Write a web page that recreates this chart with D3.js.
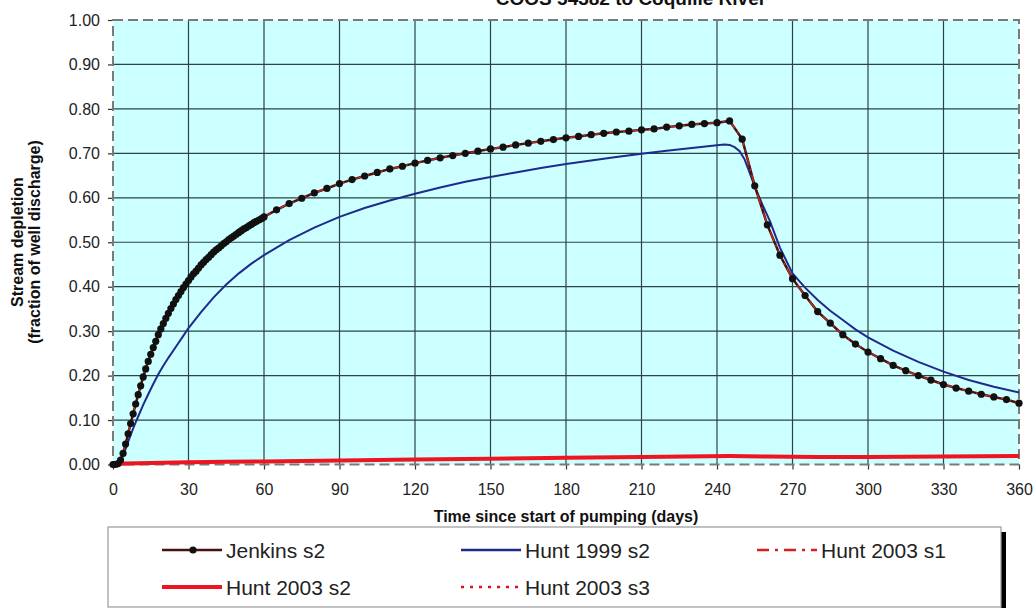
<!DOCTYPE html>
<html><head><meta charset="utf-8">
<script src="https://cdn.jsdelivr.net/npm/d3@7"></script>
<style>
html,body{margin:0;padding:0;background:#fff;}
svg{display:block;font-family:"Liberation Sans",Arial,sans-serif;}
</style></head>
<body>
<svg id="chart" width="1034" height="608"></svg>
<script>
// ---- data ----
const chartTitle = "COOS 54382 to Coquille River";
const xTicks = [0,30,60,90,120,150,180,210,240,270,300,330,360];
const yTicks = [0,0.1,0.2,0.3,0.4,0.5,0.6,0.7,0.8,0.9,1.0];
const seriesNames = ["Jenkins s2","Hunt 1999 s2","Hunt 2003 s1","Hunt 2003 s2","Hunt 2003 s3"];

const jenkinsDays = [0,1,2,3,4,5,6,7,8,9,10,11,12,13,14,15,16,17,18,19,20,21,22,23,24,25,26,27,28,29,30,
  31,32,33,34,35,36,37,38,39,40,41,42,43,44,45,46,47,48,49,50,51,52,53,54,55,56,57,58,59,60,
  65,70,75,80,85,90,95,100,105,110,115,120,125,130,135,140,145,150,155,160,165,170,175,180,185,190,195,200,
  205,210,215,220,225,230,235,240,245,250,255,260,265,270,275,280,285,290,295,300,305,310,315,320,325,330,
  335,340,345,350,355,360];
const jenkinsS2 = [0.000,0.000,0.002,0.010,0.025,0.046,0.069,0.092,0.114,0.136,0.157,0.177,0.197,0.215,0.232,0.248,0.263,0.277,0.292,0.305,0.317,
  0.329,0.340,0.351,0.361,0.371,0.380,0.389,0.398,0.406,0.414,
  0.422,0.429,0.435,0.442,0.449,0.455,0.461,0.466,0.472,0.478,0.483,0.487,0.492,0.497,0.501,0.506,0.510,0.514,0.518,0.522,0.526,0.530,0.533,0.537,0.540,0.544,0.547,0.550,0.553,0.557,
  0.573,0.587,0.599,0.611,0.621,0.632,0.641,0.649,0.657,0.665,0.671,0.678,0.684,0.690,0.695,0.700,0.705,0.710,0.714,0.719,0.723,0.727,0.731,0.735,0.738,0.742,0.745,0.748,
  0.750,0.753,0.755,0.759,0.762,0.765,0.767,0.769,0.773,0.732,0.627,0.539,0.471,0.418,0.380,0.344,0.318,0.292,0.271,0.253,0.238,0.223,0.211,0.200,0.190,0.180,
  0.172,0.165,0.158,0.152,0.146,0.138];

const hunt1999Days = [0,1,2,3,4,5,6,7,8,9,10,12,14,16,18,20,22,25,28,30,35,40,45,50,55,60,70,80,90,100,110,120,130,140,150,160,170,180,190,200,210,220,230,240,243,245,247,249,251,253,255,258,261,265,270,275,280,285,290,295,300,310,320,330,340,350,360];
const hunt1999S2 = [0,0,0.002,0.008,0.02,0.035,0.051,0.066,0.081,0.095,0.108,0.134,0.158,0.181,0.203,0.222,0.240,0.265,0.290,0.307,0.343,0.376,0.405,0.430,0.452,0.471,0.505,0.533,0.557,0.577,0.594,0.609,0.623,0.636,0.647,0.657,0.667,0.676,0.684,0.692,0.699,0.706,0.712,0.718,0.720,0.719,0.714,0.705,0.686,0.656,0.625,0.585,0.548,0.488,0.430,0.398,0.370,0.346,0.325,0.304,0.286,0.256,0.231,0.209,0.190,0.175,0.162];

const hunt2003s1Days = jenkinsDays;
const hunt2003S1 = jenkinsS2.slice();

const hunt2003s2Days = [0,5,10,20,30,45,60,90,120,150,180,210,245,260,280,300,330,360];
const hunt2003S2 = [0.000,0.002,0.003,0.004,0.005,0.006,0.007,0.009,0.011,0.013,0.015,0.017,0.019,0.018,0.017,0.017,0.018,0.019];
const hunt2003s3Days = hunt2003s2Days;
const hunt2003S3 = [0.000,0.002,0.003,0.004,0.005,0.006,0.007,0.009,0.011,0.013,0.015,0.017,0.019,0.018,0.017,0.017,0.018,0.019];

// ---- drawing ----
const svg = d3.select("#chart");
const L = 113, R = 1019, T = 20, B = 464.5;
const x = d3.scaleLinear().domain([0,360]).range([L,R]);
const y = d3.scaleLinear().domain([0,1]).range([B,T]);
const zip = (xs, ys) => xs.map((d,i) => [d, ys[i]]);

svg.append("rect").attr("x",L).attr("y",T).attr("width",R-L).attr("height",B-T).attr("fill","#ccffff");

// gridlines
const grid = svg.append("g").attr("stroke","#2a4444").attr("stroke-width",1.2);
xTicks.filter(d => d>0 && d<360).forEach(d => grid.append("line").attr("x1",x(d)).attr("x2",x(d)).attr("y1",T).attr("y2",B));
yTicks.filter(d => d>0 && d<1).forEach(d => grid.append("line").attr("x1",L).attr("x2",R).attr("y1",y(d)).attr("y2",y(d)));

// axes
const yAxis = svg.append("g").attr("transform",`translate(${L},0)`)
  .call(d3.axisLeft(y).tickValues(yTicks).tickFormat(d3.format(".2f")).tickSize(5).tickPadding(8));
const xAxis = svg.append("g").attr("transform",`translate(0,${B})`)
  .call(d3.axisBottom(x).tickValues(xTicks).tickSize(5).tickPadding(14));
[yAxis,xAxis].forEach(a => {
  a.select(".domain").remove();
  a.selectAll("line").attr("stroke","#333").attr("stroke-width",1.2);
  a.selectAll("text").attr("font-size","16px").attr("fill","#222").attr("font-family","'Liberation Sans',Arial,sans-serif");
});

// plot border (dashed)
svg.append("rect").attr("x",L).attr("y",T).attr("width",R-L).attr("height",B-T)
  .attr("fill","none").attr("stroke","#7a7a7a").attr("stroke-width",2).attr("stroke-dasharray","10,5");

// lines
const line = d3.line().x(d => x(d[0])).y(d => y(d[1]));
const plot = svg.append("g");
plot.append("path").datum(zip(hunt2003s3Days,hunt2003S3)).attr("d",line)
  .attr("fill","none").attr("stroke","#e01020").attr("stroke-width",2).attr("stroke-dasharray","2,4");
plot.append("path").datum(zip(hunt2003s2Days,hunt2003S2)).attr("d",line)
  .attr("fill","none").attr("stroke","#ee1520").attr("stroke-width",4);
plot.append("path").datum(zip(hunt1999Days,hunt1999S2)).attr("d",line)
  .attr("fill","none").attr("stroke","#1f2a8c").attr("stroke-width",2);
plot.append("path").datum(zip(jenkinsDays,jenkinsS2)).attr("d",line)
  .attr("fill","none").attr("stroke","#4a1010").attr("stroke-width",2.5);
plot.append("path").datum(zip(hunt2003s1Days,hunt2003S1)).attr("d",line)
  .attr("fill","none").attr("stroke","#c42a20").attr("stroke-width",1.5).attr("stroke-dasharray","10,4,2,4");
plot.selectAll("circle.jk").data(zip(jenkinsDays,jenkinsS2)).join("circle")
  .attr("class","jk").attr("cx",d => x(d[0])).attr("cy",d => y(d[1])).attr("r",3.6).attr("fill","#111");

// title (cut at the top edge as in the reference)
svg.append("text").attr("x",631).attr("y",5).attr("text-anchor","middle")
  .attr("font-size","19px").attr("font-weight","bold").attr("fill","#111").text(chartTitle);

// axis titles
svg.append("text").attr("x",566).attr("y",522).attr("text-anchor","middle")
  .attr("font-size","16px").attr("font-weight","bold").attr("fill","#111").text("Time since start of pumping (days)");
const yt = svg.append("text").attr("transform",`translate(0,242) rotate(-90)`).attr("text-anchor","middle")
  .attr("font-size","16px").attr("font-weight","bold").attr("fill","#111");
yt.append("tspan").attr("x",0).attr("y",23).text("Stream depletion");
yt.append("tspan").attr("x",0).attr("y",40).text("(fraction of well discharge)");

// legend
const lg = svg.append("g");
lg.append("rect").attr("x",1001).attr("y",532).attr("width",5).attr("height",80).attr("fill","#000");
lg.append("rect").attr("x",108).attr("y",527).attr("width",893).attr("height",80)
  .attr("fill","#fff").attr("stroke","#999").attr("stroke-width",1.2);
const legendItems = [
  {name:seriesNames[0], x0:162, row:0, color:"#4a1010", w:2.5, dash:null, marker:true},
  {name:seriesNames[1], x0:461, row:0, color:"#1f2a8c", w:2.5, dash:null},
  {name:seriesNames[2], x0:757, row:0, color:"#d42020", w:2.5, dash:"12,6,3,6"},
  {name:seriesNames[3], x0:162, row:1, color:"#ee1520", w:4, dash:null},
  {name:seriesNames[4], x0:461, row:1, color:"#e01020", w:2.5, dash:"3,6"}
];
const rowY = [550, 587];
legendItems.forEach(it => {
  const yy = rowY[it.row];
  const ln = lg.append("line").attr("x1",it.x0).attr("x2",it.x0+60).attr("y1",yy).attr("y2",yy)
    .attr("stroke",it.color).attr("stroke-width",it.w);
  if (it.dash) ln.attr("stroke-dasharray",it.dash);
  if (it.marker) lg.append("circle").attr("cx",it.x0+31).attr("cy",yy).attr("r",3.6).attr("fill","#111");
  lg.append("text").attr("x",it.x0+64).attr("y",yy+7.5).attr("font-size","21px").attr("fill","#222").text(it.name);
});
</script>
</body></html>
